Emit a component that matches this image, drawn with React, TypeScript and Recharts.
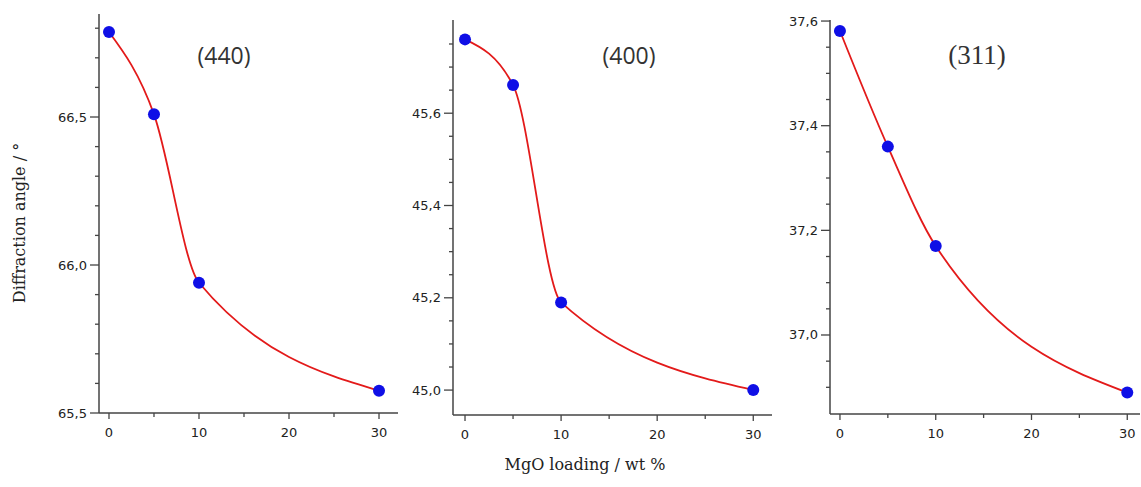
import { LineChart, Line, XAxis, YAxis } from 'recharts';

// MgO loading (wt %) and peak positions
const loading = [0, 5, 10, 30];
const angle440 = [66.787, 66.509, 65.94, 65.575];
const angle400 = [45.76, 45.661, 45.19, 45.0];
const angle311 = [37.581, 37.36, 37.17, 36.89];

const xTicks = [0, 5, 10, 15, 20, 25, 30];
const xLabels = [0, 10, 20, 30];

const ticks440 = [65.5, 65.6, 65.7, 65.8, 65.9, 66.0, 66.1, 66.2, 66.3, 66.4, 66.5, 66.6, 66.7, 66.8];
const labels440 = [65.5, 66.0, 66.5];
const ticks400 = [45.0, 45.05, 45.1, 45.15, 45.2, 45.25, 45.3, 45.35, 45.4, 45.45, 45.5, 45.55, 45.6, 45.65, 45.7, 45.75];
const labels400 = [45.0, 45.2, 45.4, 45.6];
const ticks311 = [36.9, 36.95, 37.0, 37.05, 37.1, 37.15, 37.2, 37.25, 37.3, 37.35, 37.4, 37.45, 37.5, 37.55, 37.6];
const labels311 = [37.0, 37.2, 37.4, 37.6];

const AXIS = '#444';
const TICK_FONT = '"DejaVu Sans", sans-serif';
const LABEL_FONT = '"DejaVu Serif", serif';
const H = 445;

const isIn = (list: number[], v: number) => list.some((l) => Math.abs(l - v) < 1e-6);
const fmt = (v: number) => v.toFixed(1).replace('.', ',');

function XTick(props: any) {
  const { x, y, payload } = props;
  const major = isIn(xLabels, payload.value);
  return (
    <g>
      <line x1={x} x2={x} y1={y} y2={y + (major ? 6 : 4)} stroke={AXIS} strokeWidth={1.3} />
      {major && (
        <text x={x} y={y + 24} textAnchor="middle" fontSize={13} fontFamily={TICK_FONT} fill="#222">
          {payload.value}
        </text>
      )}
    </g>
  );
}

function makeYTick(labels: number[]) {
  return (props: any) => {
    const { x, y, payload } = props;
    const major = isIn(labels, payload.value);
    return (
      <g>
        <line x1={x - (major ? 9 : 4)} x2={x} y1={y} y2={y} stroke={AXIS} strokeWidth={1.3} />
        {major && (
          <text x={x - 12} y={y + 4.5} textAnchor="end" fontSize={13} fontFamily={TICK_FONT} fill="#222">
            {fmt(payload.value)}
          </text>
        )}
      </g>
    );
  };
}

interface PanelProps {
  values: number[];
  left: number;
  width: number;
  plotLeft: number;
  plotRight: number;
  plotTop: number;
  plotBottom: number;
  xDomain: [number, number];
  yDomain: [number, number];
  yTicks: number[];
  yLabels: number[];
}

function Panel({ values, left, width, plotLeft, plotRight, plotTop, plotBottom, xDomain, yDomain, yTicks, yLabels }: PanelProps) {
  const data = loading.map((x, i) => ({ x, y: values[i] }));
  return (
    <div style={{ position: 'absolute', left, top: 0 }}>
      <LineChart
        width={width}
        height={H}
        data={data}
        margin={{ top: plotTop, right: left + width - plotRight, bottom: 0, left: 0 }}
      >
        <XAxis
          type="number"
          dataKey="x"
          domain={xDomain}
          ticks={xTicks}
          interval={0}
          allowDataOverflow
          height={H - plotBottom}
          tickSize={0}
          tickMargin={0}
          tickLine={false}
          axisLine={{ stroke: AXIS, strokeWidth: 1.5 }}
          tick={(p: any) => <XTick {...p} />}
        />
        <YAxis
          type="number"
          domain={yDomain}
          ticks={yTicks}
          interval={0}
          allowDataOverflow
          width={plotLeft - left}
          tickSize={0}
          tickMargin={0}
          tickLine={false}
          axisLine={{ stroke: AXIS, strokeWidth: 1.5 }}
          tick={makeYTick(yLabels)}
        />
        <Line
          type="monotone"
          dataKey="y"
          stroke="#e31a1a"
          strokeWidth={1.8}
          dot={{ r: 6, fill: '#0f0fe6', stroke: 'none' }}
          isAnimationActive={false}
        />
      </LineChart>
    </div>
  );
}

export default function App() {
  return (
    <div style={{ position: 'absolute', left: 0, top: 0, width: 1141, height: 487, background: '#fff' }}>
      <Panel values={angle440} left={0} width={405} plotLeft={99} plotRight={398} plotTop={14} plotBottom={413}
        xDomain={[-1.11, 32.11]} yDomain={[65.5, 66.848]} yTicks={ticks440} yLabels={labels440} />
      <Panel values={angle400} left={405} width={370} plotLeft={453} plotRight={772} plotTop={20} plotBottom={415}
        xDomain={[-1.25, 31.95]} yDomain={[44.946, 45.802]} yTicks={ticks400} yLabels={labels400} />
      <Panel values={angle311} left={775} width={366} plotLeft={830} plotRight={1140} plotTop={20} plotBottom={414}
        xDomain={[-1.04, 31.33]} yDomain={[36.849, 37.602]} yTicks={ticks311} yLabels={labels311} />
      <svg width={1141} height={487} style={{ position: 'absolute', left: 0, top: 0, pointerEvents: 'none' }}>
        <text x={224} y={64} textAnchor="middle" fontSize={23} fontFamily='"Open Sans", sans-serif' fill="#333">(440)</text>
        <text x={629} y={64} textAnchor="middle" fontSize={23} fontFamily='"Open Sans", sans-serif' fill="#333">(400)</text>
        <text x={977} y={64} textAnchor="middle" fontSize={27} fontFamily='"Liberation Serif", serif' fill="#333">(311)</text>
        <text x={25} y={223} transform="rotate(-90 25 223)" textAnchor="middle" fontSize={16} fontFamily={LABEL_FONT} fill="#222">
          Diffraction angle / °
        </text>
        <text x={585} y={470} textAnchor="middle" fontSize={16} fontFamily={LABEL_FONT} fill="#222">
          MgO loading / wt %
        </text>
      </svg>
    </div>
  );
}
